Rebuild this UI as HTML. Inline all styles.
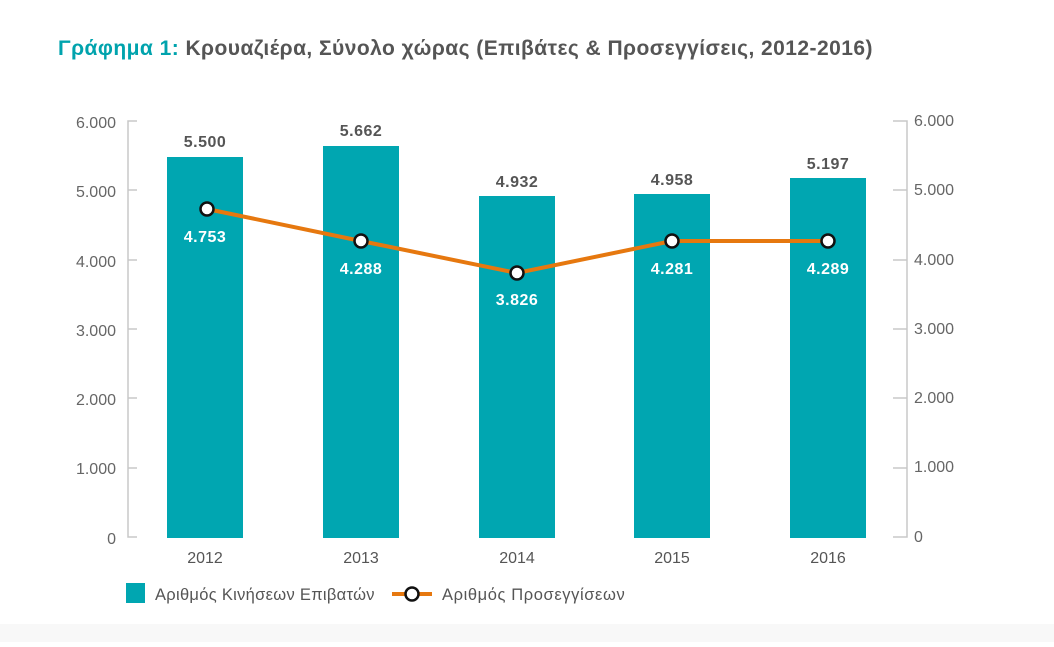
<!DOCTYPE html>
<html><head><meta charset="utf-8"><style>
body{margin:0;background:#fff;}
svg text{font-family:"Liberation Sans","DejaVu Sans",sans-serif;}
</style></head><body>
<svg width="1054" height="642" viewBox="0 0 1054 642" xmlns="http://www.w3.org/2000/svg">
<rect width="1054" height="642" fill="#fff"/>
<rect x="0" y="624" width="1054" height="18" fill="#f8f8f8"/>
<text x="58" y="55" font-size="21" font-weight="bold" fill="#00a3ad" letter-spacing="0.45">Γράφημα 1: <tspan fill="#555">Κρουαζιέρα, Σύνολο χώρας (Επιβάτες &amp; Προσεγγίσεις, 2012-2016)</tspan></text>
<g stroke="#c8c8c8" stroke-width="1.5" fill="none">
<path d="M137 121 H128 V537 H137"/>
<path d="M893 121 H907 V537 H893"/>
<path d="M128 190 H137 M128 260 H137 M128 329 H137 M128 398 H137 M128 468 H137"/>
<path d="M893 190 H907 M893 260 H907 M893 329 H907 M893 398 H907 M893 468 H907"/>
</g>
<g font-size="16" fill="#666" text-anchor="end">
<text x="116" y="128">6.000</text><text x="116" y="197">5.000</text><text x="116" y="267">4.000</text><text x="116" y="336">3.000</text><text x="116" y="405">2.000</text><text x="116" y="474">1.000</text><text x="116" y="544">0</text>
</g>
<g font-size="16" fill="#666">
<text x="914" y="126">6.000</text><text x="914" y="195">5.000</text><text x="914" y="265">4.000</text><text x="914" y="334">3.000</text><text x="914" y="403">2.000</text><text x="914" y="472">1.000</text><text x="914" y="542">0</text>
</g>
<g fill="#00a6b1">
<rect x="167" y="157" width="76" height="381"/>
<rect x="323" y="146" width="76" height="392"/>
<rect x="479" y="196" width="76" height="342"/>
<rect x="634" y="194" width="76" height="344"/>
<rect x="790" y="178" width="76" height="360"/>
</g>
<g font-size="16" font-weight="bold" fill="#555" text-anchor="middle" letter-spacing="0.5">
<text x="205" y="147">5.500</text><text x="361" y="136">5.662</text><text x="517" y="187">4.932</text><text x="672" y="185">4.958</text><text x="828" y="169">5.197</text>
</g>
<g font-size="16" fill="#555" text-anchor="middle">
<text x="205" y="563">2012</text><text x="361" y="563">2013</text><text x="517" y="563">2014</text><text x="672" y="563">2015</text><text x="828" y="563">2016</text>
</g>
<polyline points="207,209 361,241 517,273 672,241 828,241" fill="none" stroke="#e6780f" stroke-width="4"/>
<g fill="#fff" stroke="#111" stroke-width="2.5">
<circle cx="207" cy="209" r="6.5"/><circle cx="361" cy="241" r="6.5"/><circle cx="517" cy="273" r="6.5"/><circle cx="672" cy="241" r="6.5"/><circle cx="828" cy="241" r="6.5"/>
</g>
<g font-size="16" font-weight="bold" fill="#fff" text-anchor="middle" letter-spacing="0.5">
<text x="205" y="242">4.753</text><text x="361" y="274">4.288</text><text x="517" y="305">3.826</text><text x="672" y="274">4.281</text><text x="828" y="274">4.289</text>
</g>
<rect x="126" y="583" width="19" height="20" fill="#00a6b1"/>
<text x="155" y="600" font-size="16.5" fill="#555" letter-spacing="0.3">Αριθμός Κινήσεων Επιβατών</text>
<line x1="392" y1="594" x2="432" y2="594" stroke="#e6780f" stroke-width="4"/>
<circle cx="412" cy="594" r="6.5" fill="#fff" stroke="#111" stroke-width="2.5"/>
<text x="442" y="600" font-size="16.5" fill="#555" letter-spacing="0.6">Αριθμός Προσεγγίσεων</text>
</svg>
</body></html>
